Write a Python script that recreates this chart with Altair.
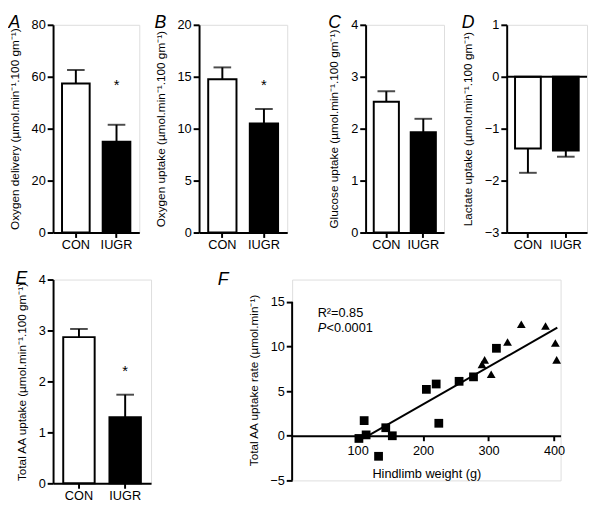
import altair as alt
import pandas as pd

FONT = "Liberation Sans"
GROUPS = ["CON", "IUGR"]

# Panel A-E bar data (mean, error)
A_MEAN = [57.4, 35.0]
A_ERR = [5.2, 6.5]
B_MEAN = [14.75, 10.5]
B_ERR = [1.15, 1.4]
C_MEAN = [2.52, 1.93]
C_ERR = [0.20, 0.26]
D_MEAN = [-1.38, -1.42]
D_ERR = [-0.47, -0.12]
E_MEAN = [2.87, 1.30]
E_ERR = [0.16, 0.44]

# significance star heights (None = no star)
A_STAR = [None, 56]
B_STAR = [None, 14.0]
E_STAR = [None, 2.16]

# Panel F scatter
F_IUGR_W = [110, 102, 113, 143, 153, 132, 205, 220, 224, 255, 277, 312]
F_IUGR_AA = [1.7, -0.3, 0.1, 0.9, 0.0, -2.3, 5.2, 5.8, 1.4, 6.1, 6.6, 9.8]
F_CON_W = [290, 294, 304, 329, 350, 387, 402, 404]
F_CON_AA = [8.0, 8.5, 6.9, 10.5, 12.5, 12.3, 10.4, 8.5]

UNIT = "(\u00b5mol.min\u207b\u00b9.100 gm\u207b\u00b9)"


def axis_y(ticks, title, domain=True):
    return alt.Axis(values=ticks, title=title, grid=False, format="d",
                    tickSize=6, tickWidth=2, domain=domain,
                    domainWidth=2, domainColor="black", tickColor="black",
                    labelColor="black", labelFontSize=13, labelPadding=2,
                    titleFontSize=12, titleFontWeight="normal", titleColor="black",
                    titlePadding=10)


def letter_title(letter, offset, dx=0):
    return alt.TitleParams(letter, anchor="start", frame="bounds",
                           fontStyle="italic", fontWeight="normal",
                           fontSize=18, font=FONT, offset=offset, dx=dx,
                           color="black")


def bar_panel(letter, means, errs, stars, domain, ticks, title, width, height,
              zero_line=False, title_offset=-13):
    df = pd.DataFrame({"group": GROUPS, "mean": means, "err": errs,
                       "star": stars})
    x = alt.X("group:N", sort=GROUPS,
              scale=alt.Scale(paddingInner=0.32, paddingOuter=0.22),
              axis=alt.Axis(title=None, ticks=True, tickSize=5, tickWidth=2,
                            tickColor="black", labelAngle=0,
                            labelFontSize=13, labelColor="black", labelPadding=1,
                            domain=True, domainWidth=2, domainColor="black"))
    yscale = alt.Scale(domain=domain, nice=False)
    base = alt.Chart(df).transform_calculate(end="datum.mean + datum.err")
    bars = base.mark_bar(stroke="black", strokeWidth=2).encode(
        x=x,
        y=alt.Y("mean:Q", scale=yscale, axis=axis_y(ticks, title)),
        fill=alt.Fill("group:N", scale=alt.Scale(domain=GROUPS,
                                                 range=["white", "black"]),
                      legend=None),
    )
    rule = base.mark_rule(color="black", strokeWidth=2).encode(
        x=x, y=alt.Y("mean:Q"), y2="end:Q")
    cap = base.mark_tick(color="black", thickness=2, size=18).encode(
        x=x, y=alt.Y("end:Q"))
    layers = [rule, cap, bars]
    if any(s is not None for s in stars):
        star = base.transform_filter("isValid(datum.star)").mark_text(
            text="*", fontSize=15, font=FONT, color="black", dy=-2).encode(
            x=x, y=alt.Y("star:Q"))
        layers.append(star)
    if zero_line:
        zl = alt.Chart(pd.DataFrame({"z": [0]})).mark_rule(
            color="black", strokeWidth=2).encode(y=alt.datum(0))
        layers.append(zl)
    return alt.layer(*layers).properties(
        width=width, height=height, title=letter_title(letter, title_offset))


pA = bar_panel("A", A_MEAN, A_ERR, A_STAR, [0, 80], [0, 20, 40, 60, 80],
               "Oxygen delivery " + UNIT, 88, 212)
pB = bar_panel("B", B_MEAN, B_ERR, B_STAR, [0, 20], [0, 5, 10, 15, 20],
               "Oxygen uptake " + UNIT, 90, 212)
pC = bar_panel("C", C_MEAN, C_ERR, [None, None], [0, 4], [0, 1, 2, 3, 4],
               "Glucose uptake " + UNIT, 80, 212)
pD = bar_panel("D", D_MEAN, D_ERR, [None, None], [-3, 1], [-3, -2, -1, 0, 1],
               "Lactate uptake " + UNIT, 82, 212, zero_line=True)
pE = bar_panel("E", E_MEAN, E_ERR, E_STAR, [0, 4], [0, 1, 2, 3, 4],
               "Total AA uptake " + UNIT, 100, 208, title_offset=-15)

fdf = pd.DataFrame({
    "weight": F_IUGR_W + F_CON_W,
    "aa": F_IUGR_AA + F_CON_AA,
    "group": ["IUGR"] * len(F_IUGR_W) + ["CON"] * len(F_CON_W),
})
one = pd.DataFrame({"k": [0]})
# F plot area: y scale runs a little above the top tick (15) so that the
# panel lines up with panel E; the axis line itself stops at 15.
F_YMIN, F_YTOP, F_YMAX = -5, 15, 17.5
fx = alt.X("weight:Q", scale=alt.Scale(domain=[0, 410], nice=False),
           axis=alt.Axis(values=[100, 200, 300, 400], title="Hindlimb weight (g)",
                         grid=False, offset=-45.5, tickSize=5, tickWidth=2,
                         domainWidth=2, domainColor="black", tickColor="black",
                         labelColor="black", labelFontSize=13, labelPadding=4,
                         titleFontSize=13, titleFontWeight="normal",
                         titleColor="black", titlePadding=11))
fy = alt.Y("aa:Q", scale=alt.Scale(domain=[F_YMIN, F_YMAX], nice=False),
           axis=axis_y([-5, 0, 5, 10, 15],
                       "Total AA uptake rate (\u00b5mol.min\u207b\u00b9)",
                       domain=False))
fbase = alt.Chart(fdf)
yline = alt.Chart(one).mark_rule(color="black", strokeWidth=2).encode(
    x=alt.datum(0), y=alt.datum(F_YMIN), y2=alt.datum(F_YTOP))
pts = fbase.mark_point(filled=True, opacity=1, color="black", size=80).encode(
    x=fx, y=fy,
    shape=alt.Shape("group:N", scale=alt.Scale(domain=["IUGR", "CON"],
                                               range=["square", "triangle-up"]),
                    legend=None))
reg = fbase.transform_regression("weight", "aa", extent=[115, 405]).mark_line(
    color="black", strokeWidth=2).encode(x="weight:Q", y="aa:Q")
r2 = alt.Chart(one).mark_text(text="R\u00b2=0.85", align="left", baseline="middle",
                              fontSize=13, font=FONT, color="black").encode(
    x=alt.datum(39), y=alt.datum(13.8))
ptxt = alt.Chart(one).mark_text(text="P", align="left", baseline="middle",
                                fontSize=13, font=FONT, fontStyle="italic",
                                color="black").encode(
    x=alt.datum(39), y=alt.datum(12.1))
ptxt2 = alt.Chart(one).mark_text(text="<0.0001", align="left", baseline="middle",
                                 fontSize=13, font=FONT, color="black",
                                 dx=9).encode(
    x=alt.datum(39), y=alt.datum(12.1))
pF = alt.layer(pts, reg, yline, r2, ptxt, ptxt2).properties(
    width=274, height=205, title=letter_title("F", -10, dx=-30))

row1 = alt.hconcat(alt.hconcat(pA, pB, spacing=14),
                   alt.hconcat(pC, pD, spacing=16), spacing=40)
row2 = alt.hconcat(pE, pF, spacing=66)
chart = alt.vconcat(row1, row2, spacing=18).properties(
    padding={"left": 0, "top": 0, "right": 0, "bottom": 0}
).configure_view(stroke=None).configure(font=FONT).configure_axis(
    labelFont=FONT, titleFont=FONT)

chart.save("out.html", embed_options={"renderer": "svg", "actions": False})
